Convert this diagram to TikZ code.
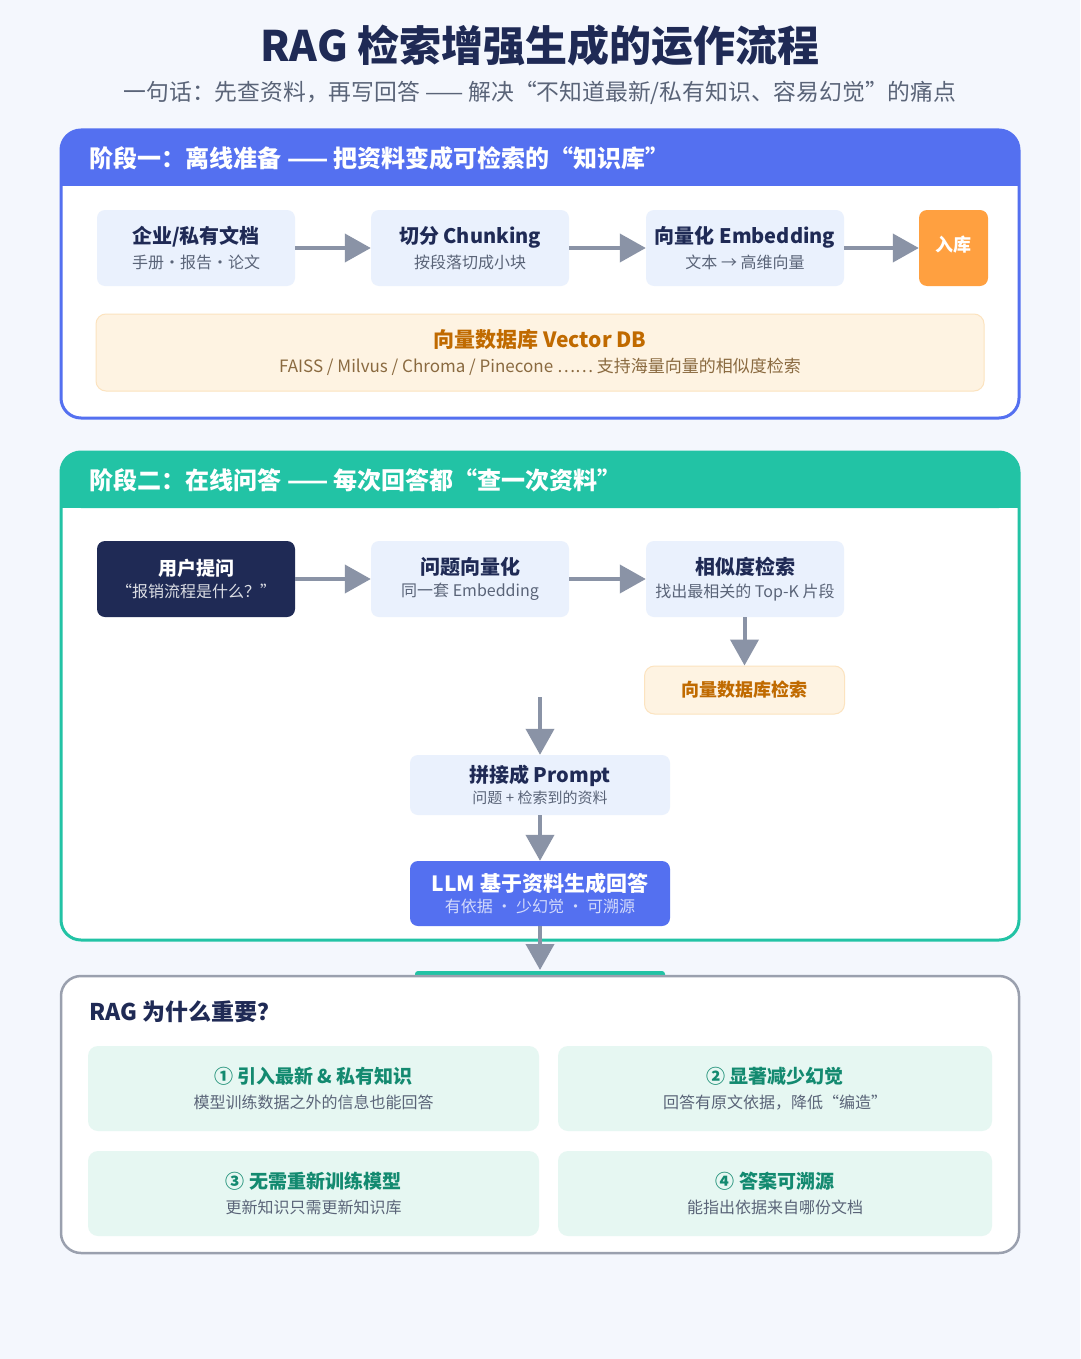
\documentclass[tikz,border=0pt]{standalone}
\usepackage{fontspec}
\setmainfont{Noto Sans CJK SC}
\usetikzlibrary{arrows.meta}
\definecolor{bg}{HTML}{F4F7FD}
\definecolor{navy}{HTML}{1F2A55}
\definecolor{sub}{HTML}{5A6478}
\definecolor{blue}{HTML}{5470F0}
\definecolor{teal}{HTML}{22C3A5}
\definecolor{boxf}{HTML}{EAF1FD}
\definecolor{arr}{HTML}{8A93A6}
\definecolor{org}{HTML}{FFA040}
\definecolor{dbf}{HTML}{FEF3E2}
\definecolor{dbd}{HTML}{FCE3BF}
\definecolor{dbt}{HTML}{C06A00}
\definecolor{dbs}{HTML}{8A6A40}
\definecolor{cardf}{HTML}{E6F7F2}
\definecolor{cardt}{HTML}{138A70}
\definecolor{gbd}{HTML}{9AA0AE}
\tikzset{
 fs/.style={font=\fontsize{#1}{#1}\selectfont},
 fb/.style={font=\fontsize{#1}{#1}\selectfont\bfseries},
 box/.style={rounded corners=8pt,fill=boxf,align=center,inner sep=0pt,text=navy},
 ar/.style={draw=arr,line width=4pt,-{Triangle[length=26pt,width=28pt]}},
 card/.style={rounded corners=10pt,fill=cardf,inner sep=0pt},
}
\newcommand{\bt}[2]{{\fontsize{20}{24}\selectfont\bfseries #1}\\[6pt]{\fontsize{16}{18}\selectfont\color{sub}#2}}
\begin{document}
\begin{tikzpicture}[x=1pt,y=-1pt]
\fill[bg] (0,0) rectangle (1080,1359);
\useasboundingbox (0,0) rectangle (1080,1359);
\node[fb=42,text=navy] (title) at (540,45) {RAG 检索增强生成的运作流程};
\node[fs=22.8,text=sub] (subt) at (540,93) {一句话：先查资料，再写回答 —— 解决“不知道最新/私有知识、容易幻觉”的痛点};
% panel 1
\draw[blue,line width=3pt,fill=white,rounded corners=20pt] (61,130) rectangle (1019,418);
\fill[blue,rounded corners=20pt] (61,130) rectangle (1019,186);
\fill[blue] (61,165) rectangle (1019,186);
\node[fb=24,text=white,anchor=west] (h1) at (86,158) {阶段一：离线准备 —— 把资料变成可检索的“知识库”};
\node[box,minimum width=198pt,minimum height=76pt] (a1) at (196,248) {\bt{企业/私有文档}{手册・报告・论文}};
\node[box,minimum width=198pt,minimum height=76pt] (a2) at (470,248) {\bt{切分 Chunking}{按段落切成小块}};
\node[box,minimum width=198pt,minimum height=76pt] (a3) at (745,248) {\bt{向量化 Embedding}{文本 → 高维向量}};
\node[rounded corners=8pt,fill=org,minimum width=69pt,minimum height=76pt,text=white,fb=18,inner sep=0pt] (a4) at (953.5,248) {\raisebox{8pt}{入库}};
\draw[ar] (a1.east) -- (a2.west);
\draw[ar] (a2.east) -- (a3.west);
\draw[ar] (a3.east) -- (a4.west);
\node[rounded corners=10pt,fill=dbf,draw=dbd,line width=1pt,minimum width=888pt,minimum height=77pt,align=center,inner sep=0pt] (db) at (540,352.5) {{\fontsize{21}{24}\selectfont\bfseries\color{dbt}向量数据库 Vector DB}\\[8pt]{\fontsize{17}{19}\selectfont\color{dbs}FAISS / Milvus / Chroma / Pinecone …… 支持海量向量的相似度检索}};
% panel 2
\draw[teal,line width=3pt,fill=white,rounded corners=20pt] (61,452) rectangle (1019,940);
\fill[teal,rounded corners=20pt] (61,452) rectangle (1019,508);
\fill[teal] (61,487) rectangle (1019,508);
\node[fb=24,text=white,anchor=west] (h2) at (86,480) {阶段二：在线问答 —— 每次回答都“查一次资料”};
\node[box,fill=navy,text=white,minimum width=198pt,minimum height=76pt] (b1) at (196,579) {{\fontsize{19}{22}\selectfont\bfseries 用户提问}\\[6pt]{\fontsize{16}{18}\selectfont\color{white!85!navy}“报销流程是什么？”}};
\node[box,minimum width=198pt,minimum height=76pt] (b2) at (470,579) {\bt{问题向量化}{同一套 Embedding}};
\node[box,minimum width=198pt,minimum height=76pt] (b3) at (745,579) {\bt{相似度检索}{找出最相关的 Top-K 片段}};
\node[rounded corners=10pt,fill=dbf,draw=dbd,line width=1pt,minimum width=200pt,minimum height=48pt,inner sep=0pt,text=dbt,fb=18] (b4) at (744.5,690) {向量数据库检索};
\draw[ar] (b1.east) -- (b2.west);
\draw[ar] (b2.east) -- (b3.west);
\draw[ar] (b3.south -| b4.north) -- (b4.north);
\coordinate (c0) at (540,697);
\node[box,minimum width=260pt,minimum height=60pt] (p) at (540,785) {{\fontsize{20}{24}\selectfont\bfseries 拼接成 Prompt}\\[3pt]{\fontsize{15}{17}\selectfont\color{sub}问题 + 检索到的资料}};
\node[box,fill=blue,text=white,minimum width=260pt,minimum height=65pt] (llm) at (540,893.5) {{\fontsize{21}{24}\selectfont\bfseries LLM 基于资料生成回答}\\[4pt]{\fontsize{16}{18}\selectfont\color{white!75!blue}有依据 ・ 少幻觉 ・ 可溯源}};
\draw[ar] (c0) -- (p.north);
\draw[ar] (p.south) -- (llm.north);
% hidden strip
\fill[teal,rounded corners=3pt] (415,971) rectangle (665,978);
\coordinate (c1) at (540,970);
\draw[ar] (llm.south) -- (c1);
% panel 3
\draw[gbd,line width=2.5pt,fill=white,rounded corners=20pt] (61,976) rectangle (1019,1253);
\node[fb=23,text=navy,anchor=west] (h3) at (86,1012) {RAG 为什么重要？};
\newcommand{\ct}[2]{{\fontsize{19}{22}\selectfont\bfseries\color{cardt}#1}\\[8pt]{\fontsize{16}{18}\selectfont\color{sub}#2}}
\node[card,minimum width=451pt,minimum height=85pt,align=center] (k1) at (313.5,1088.5) {\ct{① 引入最新 \& 私有知识}{模型训练数据之外的信息也能回答}};
\node[card,minimum width=434pt,minimum height=85pt,align=center] (k2) at (775,1088.5) {\ct{② 显著减少幻觉}{回答有原文依据，降低“编造”}};
\node[card,minimum width=451pt,minimum height=85pt,align=center] (k3) at (313.5,1193.5) {\ct{③ 无需重新训练模型}{更新知识只需更新知识库}};
\node[card,minimum width=434pt,minimum height=85pt,align=center] (k4) at (775,1193.5) {\ct{④ 答案可溯源}{能指出依据来自哪份文档}};
\end{tikzpicture}
\end{document}
